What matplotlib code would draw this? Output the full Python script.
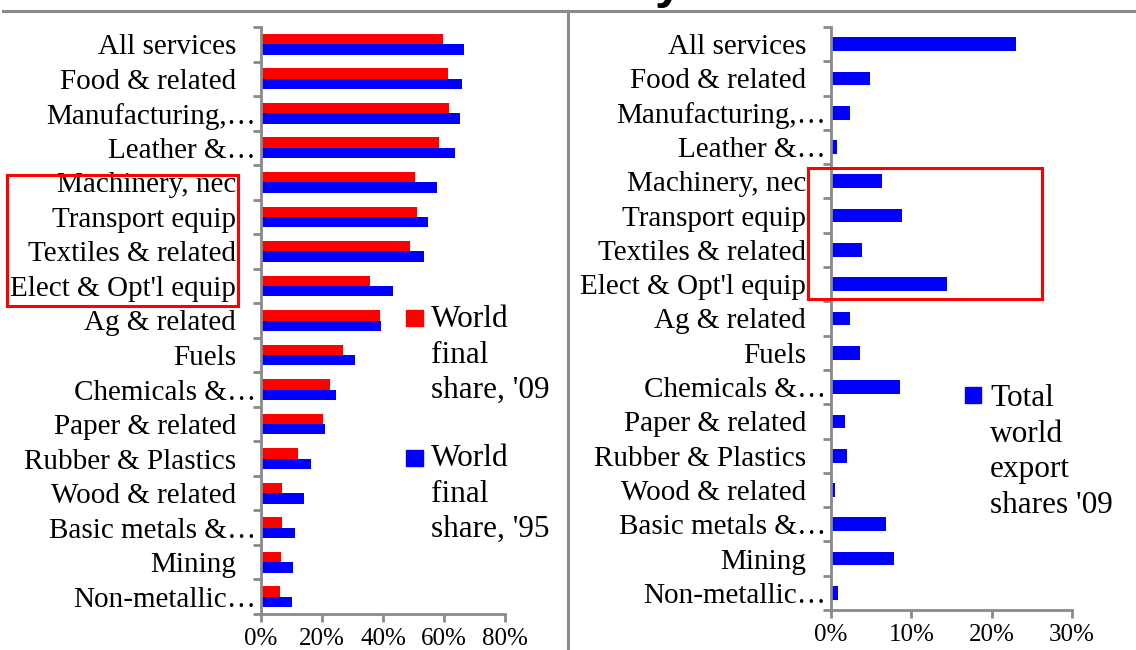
import numpy as np
import matplotlib.pyplot as plt
import matplotlib.transforms as mtransforms
from matplotlib.patches import Rectangle
from matplotlib.lines import Line2D
from matplotlib.ticker import PercentFormatter

plt.rcParams['font.family'] = ['Liberation Serif', 'DejaVu Serif']

# Data (shares as fractions)
sectors = ['All services', 'Food & related', 'Manufacturing,\u2026', 'Leather &\u2026',
           'Machinery, nec', 'Transport equip', 'Textiles & related',
           "Elect & Opt'l equip", 'Ag & related', 'Fuels', 'Chemicals &\u2026',
           'Paper & related', 'Rubber & Plastics', 'Wood & related',
           'Basic metals &\u2026', 'Mining', 'Non-metallic\u2026']
final_share_09 = [0.596, 0.612, 0.616, 0.584, 0.505, 0.512, 0.489, 0.358, 0.391,
                  0.269, 0.227, 0.204, 0.122, 0.070, 0.070, 0.064, 0.061]
final_share_95 = [0.664, 0.658, 0.652, 0.636, 0.577, 0.548, 0.534, 0.433, 0.394,
                  0.308, 0.247, 0.210, 0.164, 0.141, 0.112, 0.106, 0.103]
export_share_09 = [0.230, 0.049, 0.024, 0.008, 0.063, 0.088, 0.038, 0.145, 0.024,
                   0.036, 0.086, 0.017, 0.020, 0.005, 0.068, 0.079, 0.009]

W, H = 1136, 650
RED = '#ff0000'
BLUE = '#0000ff'
GRAY = '#8a8a8a'


def px_box(x0, y0, x1, y1):
    return [x0 / W, 1 - y1 / H, (x1 - x0) / W, (y1 - y0) / H]


fig = plt.figure(figsize=(W / 100, H / 100), dpi=100)

ax1 = fig.add_axes(px_box(261, 27, 505, 614))
ax2 = fig.add_axes(px_box(831, 27, 1072, 610))

y = np.arange(len(sectors))
ax1.barh(y - 0.15, final_share_09, height=0.3, color=RED)
ax1.barh(y + 0.15, final_share_95, height=0.3, color=BLUE)
ax2.barh(y, export_share_09, height=0.4, color=BLUE)

for ax, xmax, xstep in [(ax1, 0.8, 0.2), (ax2, 0.3, 0.1)]:
    ax.set_xlim(0, xmax)
    ax.set_ylim(len(sectors) - 0.5, -0.5)
    ax.set_xticks(np.arange(0, xmax + 1e-9, xstep))
    ax.xaxis.set_major_formatter(PercentFormatter(1.0, decimals=0))
    ax.set_yticks(np.arange(len(sectors) + 1) - 0.5)
    ax.set_yticklabels([])
    ax.set_yticks(y, minor=True)
    ax.set_yticklabels(sectors, minor=True)
    ax.tick_params(axis='y', which='major', length=6, width=2, color=GRAY, direction='out')
    ax.tick_params(axis='y', which='minor', length=0, pad=18, labelsize=21)
    ax.tick_params(axis='x', length=6, width=2, color=GRAY, direction='out',
                   labelsize=18, pad=4)
    for side in ['top', 'right']:
        ax.spines[side].set_visible(False)
    for side in ['left', 'bottom']:
        ax.spines[side].set_color(GRAY)
        ax.spines[side].set_linewidth(2)
    # truncated labels hang their ellipsis into the gap, as in the source
    for lab in ax.get_yticklabels(minor=True):
        if lab.get_text().endswith('\u2026'):
            lab.set_transform(lab.get_transform() +
                              mtransforms.ScaledTranslation(20 / 100, 0, fig.dpi_scale_trans))

# legends drawn by hand
legend_kw = dict(fontsize=22.5, va='top', ha='left', linespacing=1.3)
fig.add_artist(Rectangle((406 / W, 1 - 326 / H), 17 / W, 16 / H,
                         transform=fig.transFigure, color=RED))
fig.text(431 / W, 1 - 305 / H, "World\nfinal\nshare, '09", **legend_kw)
fig.add_artist(Rectangle((406 / W, 1 - 466 / H), 17 / W, 16 / H,
                         transform=fig.transFigure, color=BLUE))
fig.text(431 / W, 1 - 444 / H, "World\nfinal\nshare, '95", **legend_kw)
fig.add_artist(Rectangle((965 / W, 1 - 403 / H), 16 / W, 16 / H,
                         transform=fig.transFigure, color=BLUE))
fig.text(990 / W, 1 - 384 / H, "Total\nworld\nexport\nshares '09", **legend_kw)

# highlight boxes
for x0, y0, x1, y1 in [(7, 175, 238, 306), (808, 168, 1042, 299)]:
    fig.add_artist(Rectangle((x0 / W, 1 - y1 / H), (x1 - x0) / W, (y1 - y0) / H,
                             transform=fig.transFigure, fill=False,
                             edgecolor=RED, linewidth=2.2))

# slide frame lines and clipped title fragment
fig.add_artist(Line2D([3 / W, 1], [1 - 11 / H, 1 - 11 / H], color=GRAY, linewidth=2.2))
fig.add_artist(Line2D([568 / W, 568 / W], [0, 1 - 11 / H], color=GRAY, linewidth=2.2))
fig.text(668 / W, 1 + 2 / H, 'y', fontsize=36, fontweight='bold',
         family='Liberation Sans', ha='center', va='baseline')

fig.savefig('out.png', dpi=100)
